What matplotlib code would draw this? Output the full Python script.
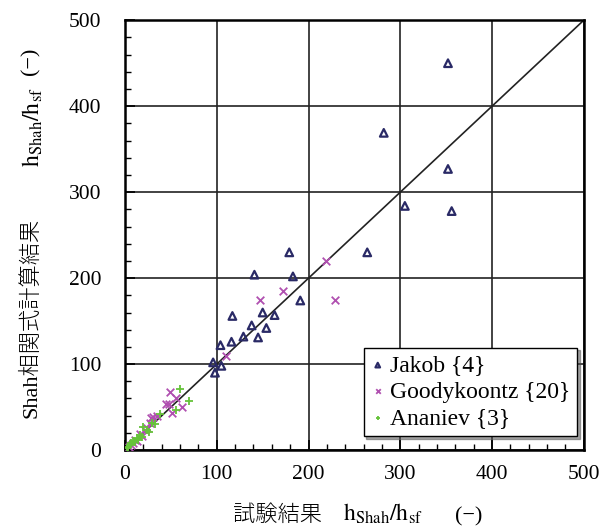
import matplotlib
matplotlib.use("Agg")
import matplotlib.pyplot as plt
from matplotlib.ticker import MultipleLocator

plt.rcParams['font.family'] = ['Liberation Serif', 'Noto Sans CJK JP']
plt.rcParams['mathtext.fontset'] = 'stix'

# Jakob {4}
jakob_x = [352, 282, 352, 305, 356, 264, 191, 179, 141, 183, 150, 163, 117, 138,
           154, 129, 145, 116, 104, 96, 105, 98]
jakob_y = [450, 369, 327, 284, 278, 230, 174, 230, 204, 202, 160, 157, 156, 145,
           142, 132, 131, 126, 122, 102, 98, 90]

# Goodykoontz {20}
goody_x = [219, 229, 172, 147, 110, 49, 55, 48, 62, 51, 31, 35, 28, 45, 27, 22,
           16, 11, 7, 13, 19, 24, 9, 4]
goody_y = [220, 174, 185, 175, 110, 67, 61, 54, 50, 43, 39, 40, 37, 54, 31, 23,
           19, 12, 6, 10, 16, 26, 8, 3]

# Ananiev {3}
anan_x = [60, 70, 55, 29, 20, 16, 9, 5, 2, 13, 24, 33, 26, 11, 7, 18, 3, 38, 14]
anan_y = [71, 57, 47, 32, 27, 17, 10, 6, 2, 14, 23, 30, 21, 9, 8, 15, 4, 42, 12]

labels = ['Jakob {4}', 'Goodykoontz {20}', 'Ananiev {3}']
ticks = [0, 100, 200, 300, 400, 500]

W, H = 610, 532
fig = plt.figure(figsize=(W / 100, H / 100), dpi=100)
ax = fig.add_axes([0.205, 0.154, 0.752, 0.808])

ax.plot([0, 500], [0, 500], color='#222222', lw=1.2, zorder=2)
ax.scatter(jakob_x, jakob_y, marker='^', s=30, facecolors='none',
           edgecolors='#2a2a66', linewidths=1.6, label=labels[0], zorder=3)
ax.scatter(goody_x, goody_y, marker='x', s=30, color='#b050b0',
           linewidths=1.3, label=labels[1], zorder=3)
ax.scatter(anan_x, anan_y, marker='+', s=30, color='#66c33a',
           linewidths=1.3, label=labels[2], zorder=3)

ax.set_xlim(0, 500)
ax.set_ylim(0, 500)
ax.set_xticks(ticks)
ax.set_yticks(ticks)
ax.xaxis.set_minor_locator(MultipleLocator(20))
ax.yaxis.set_minor_locator(MultipleLocator(20))
ax.tick_params(which='both', direction='in', labelsize=15.5)
ax.tick_params(axis='x', pad=11)
ax.tick_params(axis='y', pad=17)
ax.tick_params(which='major', length=7, width=1.2)
ax.tick_params(which='minor', length=4, width=1.0)
ax.grid(which='major', color='#222222', lw=1.2)
for s in ax.spines.values():
    s.set_linewidth(1.8)

# axis labels built from pieces (CJK text + math subscripts)
hlab = '$\\mathrm{h_{Shah}/h_{sf}}$'
fig.text(233 / W, 1 - 521 / H, '試験結果', fontsize=16, fontweight='light',
         ha='left', va='baseline')
fig.text(343 / W, 1 - 521 / H, hlab, fontsize=17, ha='left', va='baseline')
fig.text(455 / W, 1 - 521 / H, '(−)', fontsize=16, ha='left', va='baseline')

fig.text(31 / W, 1 - 418 / H, 'Shah相関式計算結果', fontsize=16, fontweight='light',
         rotation=90, ha='center', va='bottom')
fig.text(33 / W, 1 - 167 / H, hlab, fontsize=17, rotation=90,
         ha='center', va='bottom')
fig.text(31 / W, 1 - 75 / H, '(−)', fontsize=16, rotation=90,
         ha='center', va='bottom')

leg = ax.legend(loc='lower right', bbox_to_anchor=(0.985, 0.033), fontsize=17,
                fancybox=False, shadow=True, edgecolor='black', framealpha=1,
                handletextpad=0.2, borderpad=0.3, labelspacing=0.2,
                handlelength=0.6, markerscale=0.6, borderaxespad=0)
leg.get_frame().set_linewidth(1.0)

fig.savefig('out.png', dpi=100)
